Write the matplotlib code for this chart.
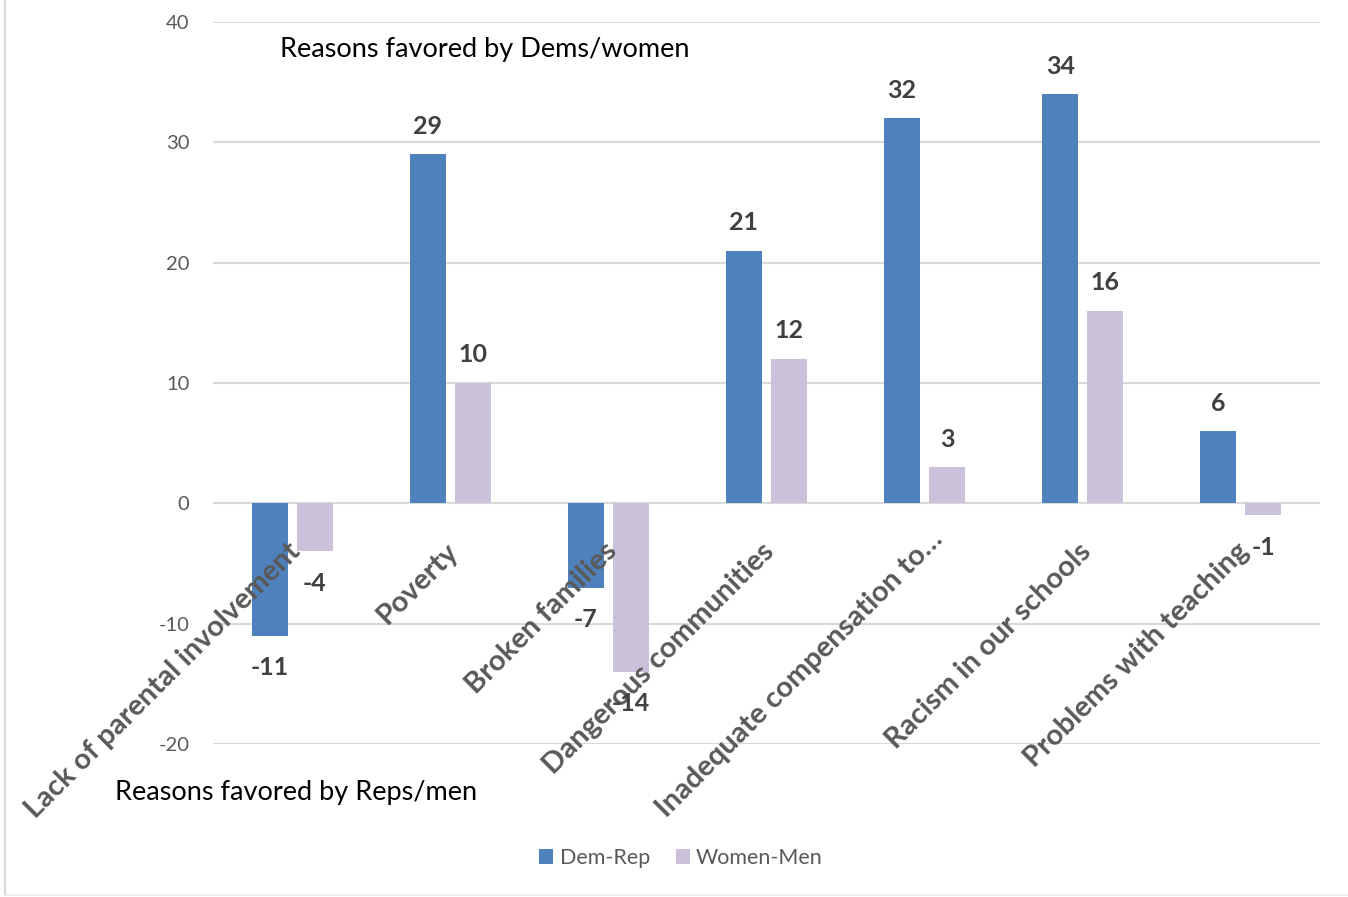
import matplotlib.pyplot as plt
from matplotlib.lines import Line2D
from matplotlib.patches import Patch
import numpy as np

categories = [
    "Lack of parental involvement",
    "Poverty",
    "Broken families",
    "Dangerous communities",
    "Inadequate compensation to\u2026",
    "Racism in our schools",
    "Problems with teaching",
]
dem_rep = [-11, 29, -7, 21, 32, 34, 6]
women_men = [-4, 10, -14, 12, 3, 16, -1]
series_names = ["Dem-Rep", "Women-Men"]
yticks = [-20, -10, 0, 10, 20, 30, 40]

BLUE = "#4F81BD"
LAV = "#CCC1DA"
GRID = "#D9D9D9"
TICK = "#595959"
LABEL = "#404040"

plt.rcParams["font.family"] = ["Lato", "DejaVu Sans"]

W, H = 1348, 897
fig = plt.figure(figsize=(W / 100, H / 100), dpi=100)
ax = fig.add_axes([213 / W, 1 - 744 / H, (1320 - 213) / W, (744 - 22) / H])

x = np.arange(len(categories))
bw = 0.228
off = 0.1425
b1 = ax.bar(x - off, dem_rep, bw, color=BLUE, zorder=3)
b2 = ax.bar(x + off, women_men, bw, color=LAV, zorder=3)

ax.set_xlim(-0.5, len(categories) - 0.5)
ax.set_ylim(-20, 40)
ax.set_yticks(yticks)
ax.set_yticklabels([str(t) for t in yticks])
ax.tick_params(axis="y", length=0, pad=17, labelsize=14.5, labelcolor=TICK)
ax.tick_params(axis="x", length=0, labelbottom=False)
for s in ax.spines.values():
    s.set_visible(False)
ax.grid(axis="y", color=GRID, linewidth=1.5, zorder=0)
ax.set_axisbelow(True)

# value labels outside the bar ends
for bars, vals in ((b1, dem_rep), (b2, women_men)):
    for rect, v in zip(bars, vals):
        cx = rect.get_x() + rect.get_width() / 2
        dy = 28 if v >= 0 else -32
        ax.annotate(str(v), (cx, v), xytext=(0, dy), textcoords="offset pixels",
                    ha="center", va="center", fontsize=18, fontweight="bold",
                    color=LABEL, zorder=5)

# rotated category labels sitting at the zero line (the truncated one sits a bit higher)
for xi, name in zip(x, categories):
    nudge = (14, -32) if name.endswith("\u2026") else (4, -44)
    ax.annotate(name, (xi, 0), xytext=nudge, textcoords="offset pixels",
                rotation=45, rotation_mode="anchor", ha="right", va="center",
                fontsize=21, fontweight="bold", color=TICK, zorder=4)

fig.text(280 / W, 1 - 49 / H, "Reasons favored by Dems/women", fontsize=19.5,
         color="black", ha="left", va="center")
fig.text(115 / W, 1 - 792 / H, "Reasons favored by Reps/men", fontsize=19.5,
         color="black", ha="left", va="center")

handles = [Patch(facecolor=BLUE), Patch(facecolor=LAV)]
leg = fig.legend(handles, series_names, loc="center", bbox_to_anchor=(681 / W, 1 - 858 / H),
                 ncol=2, frameon=False, fontsize=15.5, handlelength=0.65, handleheight=0.65,
                 handletextpad=0.3, columnspacing=1.2, labelcolor=TICK)

# chart area border (left and bottom edges)
fig.add_artist(Line2D([5 / W, 5 / W], [1 - 895 / H, 1.0], transform=fig.transFigure,
                      color=GRID, linewidth=1.5))
fig.add_artist(Line2D([5 / W, 1.0], [1 - 895 / H, 1 - 895 / H], transform=fig.transFigure,
                      color="#EAEAEA", linewidth=1.2))

fig.savefig("out.png", dpi=100, facecolor="white")
